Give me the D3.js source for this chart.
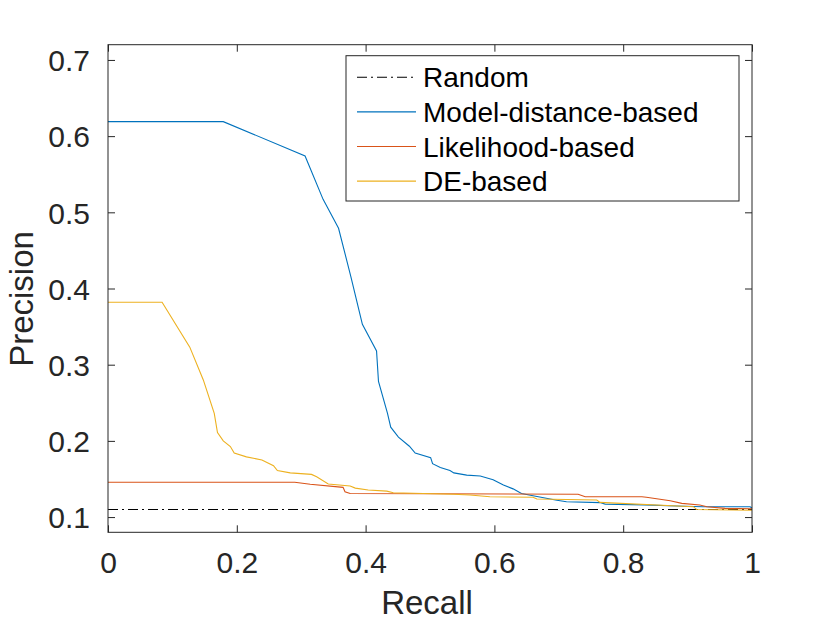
<!DOCTYPE html>
<html>
<head>
<meta charset="utf-8">
<script src="https://cdn.jsdelivr.net/npm/d3@7"></script>
<style>
  body { margin: 0; background: #fff; }
  text { font-family: "Liberation Sans", Arial, sans-serif; }
</style>
</head>
<body>
<div id="chart"></div>
<script>
// Precision-recall curves, values
const xTicks = [0, 0.2, 0.4, 0.6, 0.8, 1];
const xTickLabels = ["0", "0.2", "0.4", "0.6", "0.8", "1"];
const yTicks = [0.1, 0.2, 0.3, 0.4, 0.5, 0.6, 0.7];
const yTickLabels = ["0.1", "0.2", "0.3", "0.4", "0.5", "0.6", "0.7"];

const randomRecall = [0, 1];
const randomPrecision = [0.11, 0.11];

const modelRecall = [0, 0.179, 0.306, 0.334, 0.358, 0.377, 0.395, 0.417, 0.420, 0.434,
  0.439, 0.451, 0.468, 0.477, 0.501, 0.504, 0.516, 0.531, 0.537, 0.557, 0.578, 0.598,
  0.614, 0.629, 0.642, 0.660, 0.697, 0.712, 0.764, 0.772, 0.832, 0.883, 0.924, 0.997, 1.0];
const modelPrecision = [0.619, 0.619, 0.574, 0.517, 0.479, 0.416, 0.353, 0.318, 0.278, 0.236,
  0.218, 0.205, 0.193, 0.184, 0.178, 0.170, 0.165, 0.161, 0.158, 0.155, 0.154, 0.149,
  0.142, 0.137, 0.131, 0.128, 0.122, 0.120, 0.119, 0.117, 0.116, 0.1145, 0.1136, 0.1136, 0.112];

const likeRecall = [0, 0.290, 0.314, 0.365, 0.368, 0.376, 0.730, 0.741, 0.829, 0.836,
  0.873, 0.891, 0.919, 0.930, 0.958, 1.0];
const likePrecision = [0.1456, 0.1456, 0.143, 0.139, 0.1333, 0.131, 0.130, 0.1267, 0.1267, 0.126,
  0.1215, 0.118, 0.1158, 0.1136, 0.1114, 0.111];

const deRecall = [0, 0.084, 0.127, 0.148, 0.165, 0.170, 0.179, 0.190, 0.196, 0.215,
  0.239, 0.257, 0.263, 0.283, 0.316, 0.324, 0.342, 0.376, 0.384, 0.404, 0.433, 0.443,
  0.536, 0.562, 0.593, 0.660, 0.666, 0.759, 0.764, 0.909, 0.914, 1.0];
const dePrecision = [0.382, 0.382, 0.323, 0.280, 0.236, 0.211, 0.200, 0.1925, 0.184, 0.179,
  0.175, 0.1675, 0.161, 0.158, 0.156, 0.153, 0.1434, 0.1408, 0.138, 0.1355, 0.134, 0.132,
  0.130, 0.129, 0.1267, 0.126, 0.1237, 0.1224, 0.1193, 0.1136, 0.110, 0.109];

const seriesNames = ["Random", "Model-distance-based", "Likelihood-based", "DE-based"];
const seriesColors = ["#000000", "#0072BD", "#D95319", "#EDB120"];

const series = [
  { name: seriesNames[0], color: seriesColors[0], dash: "10,4,2,4",
    pts: randomRecall.map((r, i) => [r, randomPrecision[i]]) },
  { name: seriesNames[1], color: seriesColors[1], dash: null,
    pts: modelRecall.map((r, i) => [r, modelPrecision[i]]) },
  { name: seriesNames[2], color: seriesColors[2], dash: null,
    pts: likeRecall.map((r, i) => [r, likePrecision[i]]) },
  { name: seriesNames[3], color: seriesColors[3], dash: null,
    pts: deRecall.map((r, i) => [r, dePrecision[i]]) }
];

const W = 830, H = 623;
const margin = { top: 44.7, right: 78, bottom: 90.7, left: 108 };
const width = W - margin.left - margin.right;
const height = H - margin.top - margin.bottom;
const axisColor = "#262626";

const svg = d3.select("#chart").append("svg")
  .attr("width", W).attr("height", H);

const g = svg.append("g")
  .attr("transform", `translate(${margin.left},${margin.top})`);

const x = d3.scaleLinear().domain([0, 1]).range([0, width]);
const y = d3.scaleLinear().domain([0.08, 0.72]).range([height, 0]);

g.append("defs").append("clipPath").attr("id", "clip")
  .append("rect").attr("width", width).attr("height", height);

// data lines
const line = d3.line().x(d => x(d[0])).y(d => y(d[1]));
g.append("g").attr("clip-path", "url(#clip)")
  .selectAll("path")
  .data(series)
  .join("path")
  .attr("d", d => line(d.pts))
  .attr("fill", "none")
  .attr("stroke", d => d.color)
  .attr("stroke-width", 1.1)
  .attr("stroke-dasharray", d => d.dash);

// axes with inward ticks on all four sides (MATLAB box)
const tickLen = 7;
const styleAxis = sel => {
  sel.select(".domain").remove();
  sel.selectAll("line").attr("stroke", axisColor);
};

g.append("g")
  .attr("transform", `translate(0,${height})`)
  .call(d3.axisBottom(x).tickValues(xTicks).tickSize(-tickLen)
    .tickFormat((d, i) => xTickLabels[i]).tickPadding(0))
  .call(styleAxis)
  .call(a => a.selectAll("text")
    .attr("y", 573 - margin.top - height).attr("dy", null)
    .attr("font-size", 30).attr("fill", axisColor));

g.append("g")
  .call(d3.axisTop(x).tickValues(xTicks).tickSize(-tickLen).tickFormat(""))
  .call(styleAxis);

g.append("g")
  .call(d3.axisLeft(y).tickValues(yTicks).tickSize(-tickLen)
    .tickFormat((d, i) => yTickLabels[i]))
  .call(styleAxis)
  .call(a => a.selectAll("text")
    .attr("x", -18).attr("dy", "0.36em")
    .attr("font-size", 30).attr("fill", axisColor));

g.append("g")
  .attr("transform", `translate(${width},0)`)
  .call(d3.axisRight(y).tickValues(yTicks).tickSize(-tickLen).tickFormat(""))
  .call(styleAxis);

g.append("rect")
  .attr("width", width).attr("height", height)
  .attr("fill", "none").attr("stroke", axisColor).attr("stroke-width", 1);

// axis labels
svg.append("text")
  .attr("x", margin.left + width / 2 - 3)
  .attr("y", 614)
  .attr("text-anchor", "middle")
  .attr("font-size", 33)
  .attr("fill", axisColor)
  .text("Recall");

svg.append("text")
  .attr("transform", "translate(33,299) rotate(-90)")
  .attr("text-anchor", "middle")
  .attr("font-size", 33)
  .attr("fill", axisColor)
  .text("Precision");

// legend
const legend = svg.append("g").attr("transform", "translate(346,55.7)");
legend.append("rect")
  .attr("width", 393).attr("height", 145.3)
  .attr("fill", "#fff").attr("stroke", axisColor).attr("stroke-width", 1);

const rows = legend.selectAll(".row")
  .data(series)
  .join("g")
  .attr("class", "row")
  .attr("transform", (d, i) => `translate(0,${21.6 + i * 34.6})`);

rows.append("line")
  .attr("x1", 11).attr("x2", 70)
  .attr("stroke", d => d.color)
  .attr("stroke-width", 1.1)
  .attr("stroke-dasharray", d => d.dash);

rows.append("text")
  .attr("x", 77)
  .attr("dy", "0.36em")
  .attr("font-size", 28)
  .attr("fill", "#000")
  .text(d => d.name);
</script>
</body>
</html>
